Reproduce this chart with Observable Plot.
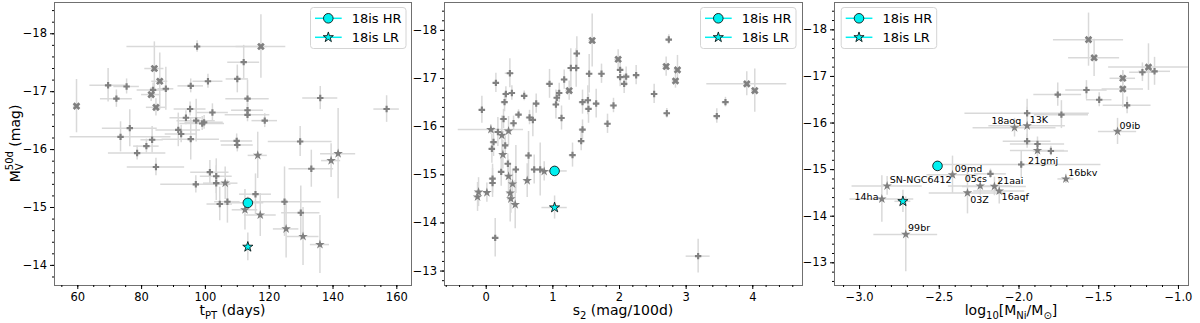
<!DOCTYPE html>
<html><head><meta charset="utf-8">
<script src="https://cdn.jsdelivr.net/npm/d3@7"></script>
<script src="https://cdn.jsdelivr.net/npm/@observablehq/plot@0.6"></script>
<style>
body{margin:0;background:#fff;font-family:"DejaVu Sans",sans-serif}
#root{display:block}
</style></head><body>
<svg id="root" width="1200" height="323" viewBox="0 0 1200 323" xmlns="http://www.w3.org/2000/svg"></svg>
<script>
// ---------- Panel 1: t_PT (days) vs M_V^50d ----------
const p1_tPT = [59.6,69.5,72.1,75.3,76.3,73.4,78.6,81.5,83.3,83.6,83.0,84.0,85.7,84.5,84.5,87.6,93.9,95.2,95.4,95.4,91.5,92.4,97.1,99.0,99.6,97.4,100.8,102.2,97.0,101.4,103.4,103.4,106.2,104.5,106.9,110.0,112.0,109.8,110.0,113.2,113.2,113.2,117.4,118.6,116.4,115.7,112.4,117.2,124.8,125.3,129.9,130.6,135.9,129.7,136.0,133.2,139.4,141.6,156.8];
const p1_M   = [-16.75,-17.11,-16.88,-17.09,-16.37,-16.22,-15.94,-16.06,-16.17,-17.03,-16.95,-17.40,-17.18,-16.73,-15.70,-17.05,-16.55,-16.70,-17.10,-16.18,-16.34,-16.27,-16.50,-16.45,-16.47,-17.78,-17.18,-16.64,-15.40,-15.61,-15.54,-15.42,-15.42,-15.06,-15.10,-17.22,-17.51,-16.15,-16.08,-16.88,-16.68,-16.60,-17.78,-16.50,-15.90,-15.23,-14.96,-14.87,-15.10,-14.63,-14.91,-14.50,-14.36,-16.14,-16.89,-15.67,-15.81,-15.93,-16.70];
const p1_tErr = [1,5.7,5,4,8.6,15.8,9,4,3.5,5,3,3,2.5,3,9,2.5,5,5,4,9,7,5,6,7,6,22,4.7,5,11,6,5,4,4,4,4,3.5,5,5,5,6.8,5,7,7.8,4,3,5,4,5,11.5,4,6,5,3,10,5.5,7,3,5.5,4];
const p1_MErr = [0.46,0.29,0.15,0.13,0.32,0.26,0.12,0.12,0.23,0.12,0.12,0.46,0.49,0.15,0.15,0.37,0.12,0.12,0.12,0.36,0.29,0.15,0.37,0.12,0.12,0.1,0.12,0.15,0.15,0.2,0.3,0.3,0.28,0.29,0.37,0.24,0.29,0.12,0.12,0.32,0.12,0.12,0.55,0.12,0.4,0.35,0.35,0.37,0.6,0.5,0.46,0.5,0.5,0.26,0.2,0.32,0.29,0.78,0.23];
const p1_marker = ["X","P","P","P","P","P","P","P","P","P","X","X","X","X","P","P","P","P","P","P","P","P","P","P","P","P","P","P","P","P","P","P","*","P","P","P","P","P","P","P","P","P","X","P","*","P","*","*","P","*","P","*","*","P","P","P","*","*","P"];

// ---------- Panel 2: s2 (mag/100d) vs M_V^50d ----------
const p2_s2 = [-0.065,0.145,0.355,0.295,0.385,0.275,0.57,0.75,0.485,0.41,0.26,0.65,0.70,0.07,0.175,0.235,0.335,0.11,0.085,0.285,0.25,0.635,0.325,0.225,0.335,0.445,0.72,0.81,0.87,0.615,0.095,0.095,0.395,0.36,0.37,0.435,-0.115,-0.13,0.01,0.135,0.95,1.046,1.06,1.095,1.17,1.245,1.13,1.27,1.35,1.36,1.59,1.545,1.73,1.445,1.525,1.535,1.65,1.445,1.425,1.295,1.82,1.91,1.98,2.01,2.01,2.10,2.07,2.25,2.52,2.70,2.74,2.84,2.87,2.71,3.46,3.59,3.91,4.03,3.18];
const p2_M  = [-16.35,-16.91,-17.11,-16.68,-16.70,-16.51,-16.64,-16.48,-16.25,-16.07,-16.16,-16.19,-16.14,-15.94,-15.89,-15.82,-15.91,-15.68,-15.54,-15.61,-15.42,-15.40,-15.23,-15.06,-14.97,-15.11,-15.11,-15.11,-15.07,-14.88,-14.92,-14.83,-14.81,-14.62,-14.50,-14.38,-14.64,-14.54,-14.63,-13.69,-16.89,-16.46,-16.60,-16.70,-16.98,-16.75,-16.18,-17.22,-17.22,-17.52,-17.79,-17.10,-17.10,-16.51,-16.55,-16.37,-16.48,-15.94,-15.70,-15.41,-16.06,-16.44,-17.40,-17.18,-17.03,-17.04,-16.89,-17.07,-16.68,-17.25,-17.81,-16.95,-17.18,-16.28,-16.22,-16.51,-16.89,-16.75,-13.31];
const p2_s2Err = [0.05,0.05,0.07,0.05,0.05,0.05,0.05,0.05,0.05,0.05,0.05,0.05,0.05,0.49,0.1,0.05,0.05,0.05,0.05,0.05,0.05,0.05,0.05,0.05,0.05,0.05,0.05,0.05,0.05,0.05,0.05,0.05,0.05,0.05,0.05,0.05,0.05,0.05,0.05,0.05,0.05,0.05,0.05,0.05,0.05,0.05,0.05,0.05,0.05,0.05,0.05,0.05,0.05,0.05,0.05,0.05,0.05,0.05,0.05,0.05,0.05,0.05,0.05,0.05,0.05,0.05,0.05,0.05,0.05,0.05,0.05,0.05,0.05,0.05,0.05,0.05,0.6,0.05,0.18];
const p2_MErr = [0.28,0.2,0.3,0.15,0.15,0.2,0.1,0.2,0.1,0.15,0.2,0.15,0.35,0.1,0.3,0.4,0.3,0.3,0.3,0.2,0.3,0.5,0.2,0.3,0.35,0.5,0.3,0.55,0.2,0.35,0.3,0.3,0.3,0.6,0.3,0.5,0.3,0.3,0.2,0.4,0.3,0.3,0.15,0.2,0.2,0.2,0.25,0.4,0.4,0.35,0.55,0.4,0.2,0.25,0.3,0.3,0.3,0.2,0.2,0.25,0.2,0.15,0.2,0.2,0.2,0.2,0.2,0.2,0.2,0.2,0.1,0.15,0.3,0.1,0.15,0.1,0.25,0.45,0.35];
const p2_marker = ["P","P","P","P","P","P","P","P","P","P","P","P","P","*","P","*","*","P","P","P","*","P","P","P","*","P","P","P","*","*","P","P","*","*","*","*","*","*","*","P","P","P","P","P","P","X","P","P","P","P","X","P","P","P","P","P","P","P","P","P","P","P","X","P","P","P","P","P","P","X","P","X","X","P","P","P","X","X","P"];

// ---------- Panel 3: log10[M_Ni/M_sun] vs M_V^50d ----------
const p3_logNi = [-1.564,-1.529,-1.188,-1.226,-1.150,-1.349,-1.349,-1.577,-1.497,-1.322,-1.757,-1.734,-1.949,-2.028,-1.949,-1.382,-1.949,-1.884,-1.884,-1.800,-1.986,-2.179,-1.706,-2.417,-2.243,-2.154,-2.124,-2.323,-2.827,-2.860,-2.710];
const p3_M = [-17.79,-17.40,-17.20,-17.09,-17.11,-16.96,-16.73,-16.71,-16.50,-16.38,-16.61,-16.18,-16.21,-15.90,-15.94,-15.82,-15.61,-15.55,-15.41,-15.40,-15.11,-14.91,-14.80,-14.89,-14.65,-14.64,-14.54,-14.50,-14.65,-14.37,-13.61];
const p3_logNiErr = [0.22,0.16,0.25,0.08,0.1,0.08,0.13,0.13,0.08,0.15,0.15,0.17,0.39,0.26,0.24,0.12,0.15,0.17,0.17,0.11,0.5,0.1,0.05,0.16,0.2,0.2,0.16,0.24,0.22,0.2,0.2];
const p3_MErr = [0.57,0.4,0.5,0.2,0.3,0.15,0.4,0.2,0.15,0.18,0.25,0.3,0.3,0.2,0.4,0.28,0.15,0.15,0.15,0.1,0.3,0.1,0.1,0.4,0.2,0.2,0.28,0.45,0.2,0.5,0.8];
const p3_marker = ["X","X","X","P","P","X","X","P","P","P","P","P","P","*","*","*","P","P","*","P","P","P","*","*","*","*","*","*","*","*","*"];
const p3_name = ["","","","","","","","","","","","","","18aoq","13K","09ib","","","21gmj","","","","16bkv","09md","05cs","21aai","16aqf","03Z","SN-NGC6412","14ha","99br"];

// ---------- SN 2018is (HR / LR) in the three panels ----------
const is18_label = ["18is HR","18is LR"];
const is18_tPT = [113.3,113.3];
const is18_tPTErr = [5,1];
const is18_s2 = [1.026,1.026];
const is18_s2Err = [0.19,0.19];
const is18_logNi = [-2.511,-2.728];
const is18_logNiErr = [0,0.05];
const is18_M = [-15.08,-14.32];
const is18_MErr = [0.1,0.24];

// ---------- Tick values ----------
const yMajor = [-18,-17,-16,-15,-14,-13];
const p1_xTicks = [60,80,100,120,140,160];
const p2_xTicks = [0,1,2,3,4];
const p3_xTicks = [-3.0,-2.5,-2.0,-1.5,-1.0];

// ---------- helpers ----------
const rows = (xs, ys, xe, ye, mk, nm) => xs.map((x,i)=>({x, y: ys[i], xe: xe[i], ye: ye[i], m: mk ? mk[i] : null, name: nm ? nm[i] : ""}));
const range = (a,b,s) => d3.range(Math.round(a/s), Math.round(b/s)+1).map(k => +(k*s).toFixed(6));

const xSymbol = { draw(ctx, size) {
  const y = Math.sqrt(size/5)/2, c = Math.SQRT1_2;
  const pts = [[-3*y,-y],[-y,-y],[-y,-3*y],[y,-3*y],[y,-y],[3*y,-y],[3*y,y],[y,y],[y,3*y],[-y,3*y],[-y,y],[-3*y,y]]
    .map(([a,b]) => [(a-b)*c,(a+b)*c]);
  ctx.moveTo(pts[0][0],pts[0][1]); for (const p of pts.slice(1)) ctx.lineTo(p[0],p[1]); ctx.closePath();
}};

const GRAY = "#808080", BAR = "#d9d9d9", FONT = "DejaVu Sans, sans-serif", CYAN = "#00f0f0", TICKFS = 11.5;

function panel(o) {
  const all = o.data.concat(o.is18);
  const [x0,x1] = o.xDomain, [yb,yt] = o.yDomain;
  const xMinor = range(Math.ceil(x0/o.xMinorStep)*o.xMinorStep, x1, o.xMinorStep).filter(v=>v>=x0&&v<=x1);
  const yMinor = range(Math.ceil(yt/0.2)*0.2, yb, 0.2).filter(v=>v>=yt&&v<=yb);
  const yTicks = yMajor.filter(v=>v>=yt&&v<=yb);
  const labelMarks = (o.labels||[]).map(d => {
    const s = o.labelStyle[d.name];
    return Plot.text([d], {x:"x", y:"y", text:"name", dx:s[0], dy:s[1], textAnchor:s[2], fontSize:9.5, fill:"#000", fontFamily: FONT});
  });
  const svg = Plot.plot({
    width: o.width, height: 323,
    marginLeft: o.ml, marginRight: o.mr, marginTop: 2, marginBottom: 38,
    style: {background:"transparent", overflow:"visible", fontFamily: FONT, fontSize: TICKFS + "px", color:"#000"},
    x: {domain: o.xDomain}, y: {domain: o.yDomain},
    marks: [
      Plot.ruleY(all, {y:"y", x1: d=>d.x-d.xe, x2: d=>d.x+d.xe, stroke: BAR, strokeWidth: 1.5, clip: true}),
      Plot.ruleX(all, {x:"x", y1: d=>d.y-d.ye, y2: d=>d.y+d.ye, stroke: BAR, strokeWidth: 1.5, clip: true}),
      Plot.dot(o.data.filter(d=>d.m==="P"), {x:"x", y:"y", symbol:"cross", r:2.7, fill:GRAY}),
      Plot.dot(o.data.filter(d=>d.m==="X"), {x:"x", y:"y", symbol:xSymbol, r:3.4, fill:GRAY}),
      Plot.dot(o.data.filter(d=>d.m==="*"), {x:"x", y:"y", symbol:"star", r:3.0, fill:GRAY}),
      Plot.dot(o.is18.slice(0,1), {x:"x", y:"y", symbol:"circle", r:4.8, fill:CYAN, stroke:"#000", strokeWidth:0.8}),
      Plot.dot(o.is18.slice(1,2), {x:"x", y:"y", symbol:"star", r:3.2, fill:CYAN, stroke:"#000", strokeWidth:0.8}),
      ...labelMarks,
      Plot.frame({stroke:"#707070", strokeWidth:1}),
      Plot.axisX({ticks:o.xTicks, tickSize:4, tickPadding:3, tickFormat:o.xFmt, label:null, fontSize:TICKFS}),
      Plot.axisX({ticks:xMinor, tickSize:2, tickFormat:()=>"", label:null}),
      Plot.axisY({anchor:"left", ticks:yTicks, tickSize:4, tickFormat:()=>"", label:null}),
      Plot.axisY({anchor:"left", ticks:yMinor, tickSize:2, tickFormat:()=>"", label:null})
    ]
  });
  svg.__yTicks = yTicks;
  svg.__ml = o.ml;
  return svg;
}

function addXLabel(svg, cx, parts) {
  const t = d3.select(svg).append("text").attr("x", cx).attr("y", 315).attr("text-anchor","middle")
    .attr("font-size", 14).attr("font-family", FONT).attr("fill","#000");
  let off = 0;
  for (const [s, kind] of parts) {
    const target = kind === "sub" ? 3.5 : 0;
    t.append("tspan").attr("dy", target - off).attr("font-size", kind ? 10 : 14).text(s);
    off = target;
  }
}

function addLegend(svg, x0) {
  const g = d3.select(svg).append("g").attr("transform", `translate(${x0},0)`);
  g.append("rect").attr("x",0.5).attr("y",7.5).attr("width",95.5).attr("height",41).attr("rx",3)
    .attr("fill","#fff").attr("fill-opacity",0.8).attr("stroke","#d4d4d4");
  const items = [
    {y:18.3, sym:d3.symbolCircle, size:Math.PI*4.8*4.8},
    {y:37.3, sym:d3.symbolStar, size:Math.PI*3.2*3.2}
  ];
  items.forEach((it,i) => {
    g.append("line").attr("x1",5).attr("x2",31.7).attr("y1",it.y).attr("y2",it.y).attr("stroke",CYAN).attr("stroke-width",1.5);
    g.append("path").attr("d", d3.symbol(it.sym, it.size)()).attr("transform",`translate(18.3,${it.y})`)
      .attr("fill",CYAN).attr("stroke","#000").attr("stroke-width",0.8);
    g.append("text").attr("x",41.7).attr("y",it.y).attr("dy","0.35em").attr("font-size",13)
      .attr("text-anchor","start").attr("font-family",FONT).attr("fill","#000").text(is18_label[i]);
  });
}

const root = d3.select("#root");
const placed = [];
function place(svg, left) {
  const g = root.append("g").attr("transform", `translate(${left},0)`);
  svg.setAttribute("overflow", "visible");
  g.node().appendChild(svg);
  placed.push([svg, left]);
}

// Panel 1 (frame 54..411)
const s1 = panel({
  data: rows(p1_tPT, p1_M, p1_tErr, p1_MErr, p1_marker),
  is18: rows(is18_tPT, is18_M, is18_tPTErr, is18_MErr),
  xDomain:[52.7,164.6], yDomain:[-13.653,-18.54], width:415, ml:54, mr:4,
  xTicks:p1_xTicks, xMinorStep:5, xFmt:d3.format("d")
});
addXLabel(s1, 232.5, [["t",null],["PT","sub"],[" (days)",null]]);
addLegend(s1, 310);
{
  const t = d3.select(s1).append("text").attr("transform","translate(19.5,143.5) rotate(-90)")
    .attr("text-anchor","middle").attr("font-size",14).attr("font-family",FONT).attr("fill","#000");
  t.append("tspan").text("M");
  t.append("tspan").attr("dy",3.5).attr("font-size",10).text("V");
  t.append("tspan").attr("dx",-6.8).attr("dy",-10).attr("font-size",10).text("50d");
  t.append("tspan").attr("dy",6.5).text(" (mag)");
}

// Panel 2 (frame 444..802)
const s2 = panel({
  data: rows(p2_s2, p2_M, p2_s2Err, p2_MErr, p2_marker),
  is18: rows(is18_s2, is18_M, is18_s2Err, is18_MErr),
  xDomain:[-0.626,4.746], yDomain:[-12.70,-18.58], width:421, ml:59, mr:4,
  xTicks:p2_xTicks, xMinorStep:0.2, xFmt:d3.format("d")
});
addXLabel(s2, 238, [["s",null],["2","sub"],[" (mag/100d)",null]]);
addLegend(s2, 315);

// Panel 3 (frame 834..1188)
const labelStyle = {
  "18aoq":[6.7,-7,"end"], "13K":[2.6,-5.4,"start"], "09ib":[2,-5,"start"], "21gmj":[-9.4,10,"start"],
  "16bkv":[2.3,-6,"start"], "09md":[2.3,-5.5,"start"], "05cs":[6.7,-7,"end"], "21aai":[2.7,-5.5,"start"],
  "16aqf":[2.4,5.5,"start"], "03Z":[2.7,7,"start"], "SN-NGC6412":[2.6,-6.3,"start"], "14ha":[-3.4,-1.6,"end"],
  "99br":[2.3,-6.6,"start"]
};
const p3rows = rows(p3_logNi, p3_M, p3_logNiErr, p3_MErr, p3_marker, p3_name);
const s3 = panel({
  data: p3rows,
  is18: rows(is18_logNi, is18_M, is18_logNiErr, is18_MErr),
  xDomain:[-3.157,-0.937], yDomain:[-12.513,-18.587], width:424, ml:58, mr:12,
  xTicks:p3_xTicks, xMinorStep:0.1, xFmt:d3.format(".1f"),
  labels: p3rows.filter(d=>d.name), labelStyle
});
addXLabel(s3, 235, [["log",null],["10","sub"],["[M",null],["Ni","sub"],["/M",null],["\u2299","sub"],["]",null]]);
addLegend(s3, 64.7);

place(s1, 0);
place(s2, 385);
place(s3, 776);

// y tick labels for all panels, positioned through each plot's own y scale
const tickLayer = root.append("g").attr("font-size", TICKFS).attr("font-family", FONT).attr("fill", "#000");
for (const [svg, left] of placed) {
  const ys = svg.scale("y");
  for (const v of svg.__yTicks) {
    tickLayer.append("text").attr("x", left + svg.__ml - 7).attr("y", ys.apply(v)).attr("dy", "0.35em")
      .attr("text-anchor", "end").text((v < 0 ? "\u2212" : "") + Math.abs(Math.round(v)));
  }
}
</script>
</body></html>
